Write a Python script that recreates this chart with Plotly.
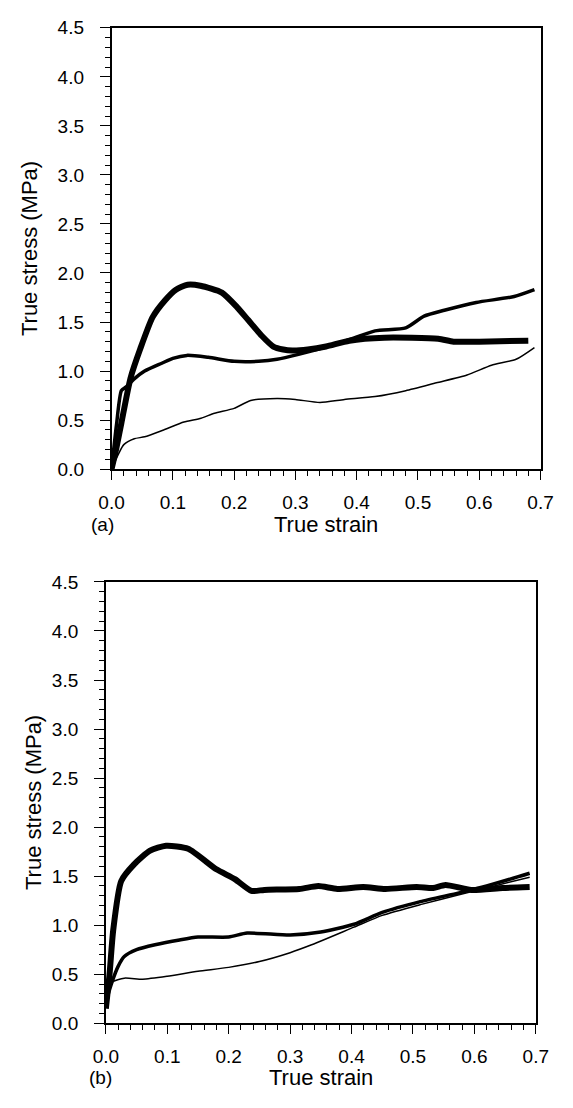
import plotly.graph_objects as go

# ---- data: panel (a) ----
a_thick_x = [0.0, 0.008, 0.016, 0.031, 0.047, 0.067, 0.087, 0.105, 0.124, 0.145, 0.18, 0.205, 0.223, 0.245, 0.264, 0.28, 0.295, 0.32, 0.35, 0.388, 0.445, 0.533, 0.558, 0.6, 0.68]
a_thick_y = [0.0, 0.22, 0.47, 0.93, 1.23, 1.55, 1.72, 1.83, 1.88, 1.87, 1.80, 1.65, 1.52, 1.36, 1.25, 1.22, 1.21, 1.22, 1.25, 1.31, 1.34, 1.33, 1.30, 1.30, 1.31]
a_med_x = [0.0, 0.008, 0.016, 0.024, 0.037, 0.054, 0.082, 0.10, 0.123, 0.158, 0.2, 0.24, 0.27, 0.305, 0.352, 0.388, 0.43, 0.48, 0.51, 0.543, 0.595, 0.657, 0.69]
a_med_y = [0.0, 0.45, 0.80, 0.84, 0.92, 1.0, 1.08, 1.13, 1.16, 1.14, 1.10, 1.10, 1.12, 1.17, 1.25, 1.32, 1.41, 1.44, 1.56, 1.62, 1.70, 1.76, 1.83]
a_thin_x = [0.0, 0.02, 0.037, 0.054, 0.085, 0.118, 0.146, 0.168, 0.2, 0.227, 0.27, 0.3, 0.34, 0.38, 0.43, 0.48, 0.53, 0.58, 0.62, 0.66, 0.69]
a_thin_y = [0.0, 0.25, 0.31, 0.33, 0.40, 0.48, 0.52, 0.57, 0.62, 0.70, 0.72, 0.71, 0.68, 0.71, 0.74, 0.80, 0.88, 0.96, 1.06, 1.12, 1.24]

# ---- data: panel (b) ----
b_thick_x = [0.0, 0.006, 0.012, 0.025, 0.046, 0.072, 0.098, 0.134, 0.18, 0.21, 0.237, 0.258, 0.315, 0.346, 0.377, 0.419, 0.455, 0.506, 0.533, 0.553, 0.595, 0.646, 0.69]
b_thick_y = [0.15, 0.50, 0.95, 1.45, 1.62, 1.76, 1.81, 1.78, 1.57, 1.47, 1.35, 1.36, 1.37, 1.40, 1.37, 1.39, 1.37, 1.39, 1.38, 1.41, 1.36, 1.38, 1.39]
b_med_x = [0.0, 0.01, 0.02, 0.03, 0.05, 0.08, 0.12, 0.15, 0.2, 0.23, 0.3, 0.35, 0.404, 0.45, 0.512, 0.575, 0.62, 0.69]
b_med_y = [0.22, 0.42, 0.58, 0.68, 0.75, 0.80, 0.85, 0.88, 0.88, 0.92, 0.90, 0.93, 1.01, 1.13, 1.24, 1.33, 1.40, 1.53]
b_thin_x = [0.0, 0.01, 0.03, 0.06, 0.1, 0.15, 0.2, 0.25, 0.3, 0.335, 0.404, 0.45, 0.512, 0.575, 0.62, 0.69]
b_thin_y = [0.30, 0.42, 0.46, 0.45, 0.48, 0.53, 0.57, 0.63, 0.72, 0.80, 0.98, 1.10, 1.21, 1.31, 1.38, 1.49]

x_ticks = [0.0, 0.1, 0.2, 0.3, 0.4, 0.5, 0.6, 0.7]
y_ticks = [0.0, 0.5, 1.0, 1.5, 2.0, 2.5, 3.0, 3.5, 4.0, 4.5]
x_title = "True strain"
y_title = "True stress (MPa)"
panel_labels = ["(a)", "(b)"]

PAGE_W, PAGE_H = 573, 1108
BODY = 8  # default body margin of the html page
W, H = PAGE_W - 2 * BODY, PAGE_H - 2 * BODY
FONT = "Liberation Sans, Arial, sans-serif"

fig = go.Figure()

def add(x, y, w, xa, ya):
    fig.add_trace(go.Scatter(x=x, y=y, mode="lines",
                             line=dict(color="black", width=w, shape="spline", smoothing=0.6),
                             xaxis=xa, yaxis=ya, showlegend=False, hoverinfo="skip"))

add(a_thin_x, a_thin_y, 1.5, "x", "y")
add(a_med_x, a_med_y, 3.5, "x", "y")
add(a_thick_x, a_thick_y, 6, "x", "y")
add(b_thin_x, b_thin_y, 1.5, "x2", "y2")
add(b_med_x, b_med_y, 3.5, "x2", "y2")
add(b_thick_x, b_thick_y, 6, "x2", "y2")

# page pixel -> paper fraction
def px_x(p):
    return (p - BODY) / W

def px_y(p):
    return 1 - (p - BODY) / H

axis_common = dict(showline=True, linecolor="black", linewidth=1.5, mirror=True, showgrid=False, zeroline=False,
                   ticks="outside", tickcolor="black", tickwidth=1.3,
                   tickfont=dict(family=FONT, size=19, color="black"))

xa = dict(axis_common, range=[0, 0.7], tickvals=x_ticks, ticktext=[f"{v:.1f}" for v in x_ticks], ticklen=9,
          ticklabelstandoff=6,
          minor=dict(dtick=0.02, ticklen=5, ticks="outside", tickcolor="black", tickwidth=1))
ya = dict(axis_common, range=[0, 4.5], tickvals=y_ticks, ticktext=[f"{v:.1f}" for v in y_ticks], ticklen=10,
          ticklabelstandoff=12,
          minor=dict(dtick=0.1, ticklen=5, ticks="outside", tickcolor="black", tickwidth=1))

top = (18, 468)
bot = (583, 1033)
a_x = (103, 553)
b_x = (97, 548)

fig.update_layout(
    width=W, height=H, margin=dict(l=0, r=0, t=0, b=0),
    paper_bgcolor="white", plot_bgcolor="white",
    xaxis=dict(xa, domain=[px_x(a_x[0]), px_x(a_x[1])], anchor="y"),
    yaxis=dict(ya, domain=[px_y(top[1]), px_y(top[0])], anchor="x"),
    xaxis2=dict(xa, domain=[px_x(b_x[0]), px_x(b_x[1])], anchor="y2"),
    yaxis2=dict(ya, domain=[px_y(bot[1]), px_y(bot[0])], anchor="x2"),
)

ann = []
for (xr, yr, lab, tx, ty, lx) in [(a_x, top, panel_labels[0], 17, 524, 79), (b_x, bot, panel_labels[1], 21, 1088, 77)]:
    ann.append(dict(text=y_title, x=px_x(tx), y=px_y((yr[0] + yr[1]) / 2), xref="paper", yref="paper",
                    textangle=-90, showarrow=False, font=dict(family=FONT, size=22, color="black"),
                    xanchor="center", yanchor="middle"))
    ann.append(dict(text=x_title, x=px_x((xr[0] + xr[1]) / 2), y=px_y(ty), xref="paper", yref="paper",
                    showarrow=False, font=dict(family=FONT, size=22, color="black"),
                    xanchor="center", yanchor="middle"))
    ann.append(dict(text=lab, x=px_x(lx), y=px_y(ty), xref="paper", yref="paper",
                    showarrow=False, font=dict(family=FONT, size=19, color="black"),
                    xanchor="left", yanchor="middle"))
fig.update_layout(annotations=ann)

fig.write_html("out.html")
